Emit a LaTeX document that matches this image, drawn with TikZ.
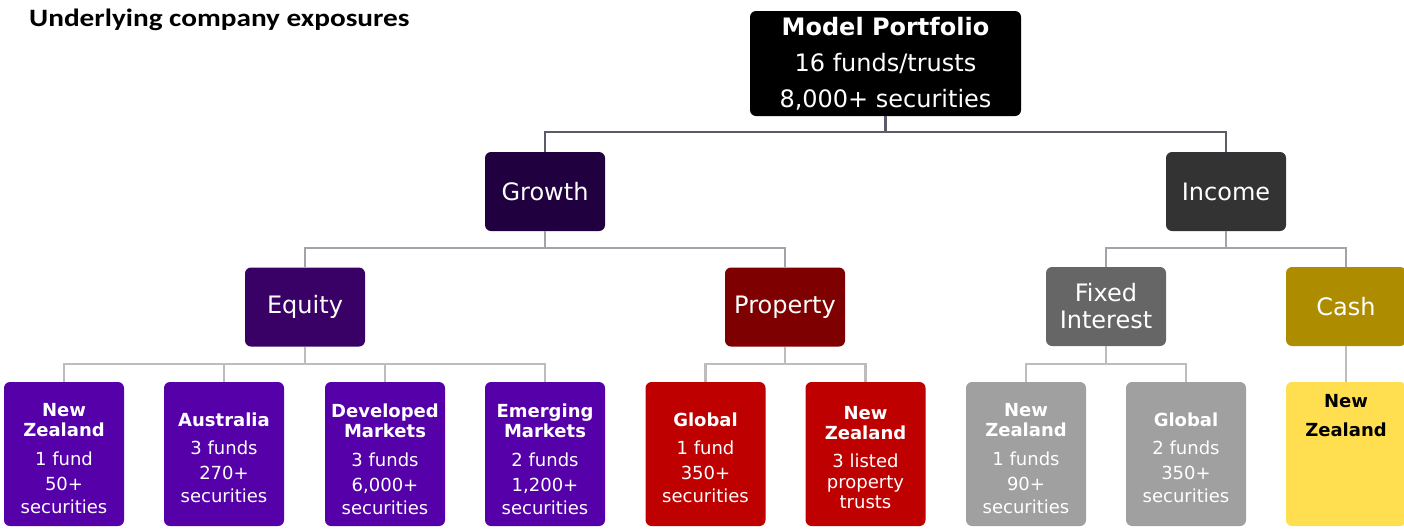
\documentclass[tikz,border=0pt]{standalone}
\usepackage{fontspec}
\usepackage{graphicx}
\setmainfont{DejaVu Sans}
\newfontfamily\titlefont{Carlito}
\usetikzlibrary{calc}
\definecolor{cMP}{HTML}{000000}
\definecolor{cGrowth}{HTML}{20003F}
\definecolor{cIncome}{HTML}{333333}
\definecolor{cEquity}{HTML}{390066}
\definecolor{cProperty}{HTML}{7F0000}
\definecolor{cFI}{HTML}{666666}
\definecolor{cCash}{HTML}{AD8C00}
\definecolor{cEqLeaf}{HTML}{5500A8}
\definecolor{cPrLeaf}{HTML}{BE0000}
\definecolor{cFILeaf}{HTML}{A0A0A0}
\definecolor{cCashLeaf}{HTML}{FFDF4F}
\definecolor{lineA}{HTML}{5E5A6A}
\definecolor{lineB}{HTML}{A3A3AB}
\definecolor{lineC}{HTML}{BDBDBD}
\tikzset{
  box/.style={rounded corners=6pt, inner sep=0pt, align=center, text=white},
  topbox/.style={box, minimum width=271pt, minimum height=105pt, fill=cMP,
    font=\fontsize{24}{36}\selectfont},
  midbox/.style={box, minimum width=120pt, minimum height=79pt,
    font=\fontsize{24}{27}\selectfont},
  leafbox/.style={box, minimum width=120pt, minimum height=144pt},
  leaftext/.style={align=center, inner sep=0pt, font=\fontsize{18}{23}\selectfont},
  connA/.style={draw=lineA, line width=2.5pt},
  connB/.style={draw=lineB, line width=2.5pt},
  connC/.style={draw=lineC, line width=2.5pt},
}
\newcommand{\hd}[1]{\textbf{#1}}
\begin{document}
\begin{tikzpicture}[x=1pt,y=-1pt]
\useasboundingbox (0,0) rectangle (1404,531);
\node[anchor=base west, inner sep=0pt, font=\titlefont\bfseries\fontsize{25}{28}\selectfont] (title) at (29,26) {\scalebox{1.17}[1]{Underlying company exposures}};

\node[topbox] (mp) at (885.5,63.5) {\hd{Model Portfolio}\\16 funds/trusts\\8,000+ securities};

\node[midbox, fill=cGrowth] (growth) at (545,191.5) {Growth};
\node[midbox, fill=cIncome] (income) at (1226,191.5) {Income};

\node[midbox, fill=cEquity] (equity) at (305,307) {Equity};
\node[midbox, fill=cProperty] (property) at (785,307) {Property};
\node[midbox, fill=cFI] (fi) at (1106,306.5) {Fixed\\Interest};
\node[midbox, fill=cCash] (cash) at (1346,306.5) {Cash};

\node[leafbox, fill=cEqLeaf, label={[leaftext, text=white, yshift=-5pt]center:{\hd{New}\\[-3pt]\hd{Zealand}\\[6pt]1 fund\\[2pt]50+\\securities}}] (eqnz) at (64,454) {};
\node[leafbox, fill=cEqLeaf, label={[leaftext, text=white, yshift=-4pt]center:{\hd{Australia}\\[5pt]3 funds\\[2pt]270+\\securities}}] (eqau) at (224,454) {};
\node[leafbox, fill=cEqLeaf, label={[leaftext, text=white, yshift=-5pt]center:{\hd{Developed}\\[-3pt]\hd{Markets}\\[6pt]3 funds\\[2pt]6,000+\\securities}}] (eqdm) at (385,454) {};
\node[leafbox, fill=cEqLeaf, label={[leaftext, text=white, yshift=-5pt]center:{\hd{Emerging}\\[-3pt]\hd{Markets}\\[6pt]2 funds\\[2pt]1,200+\\securities}}] (eqem) at (545,454) {};

\node[leafbox, fill=cPrLeaf, label={[leaftext, text=white, yshift=-4pt]center:{\hd{Global}\\[5pt]1 fund\\[2pt]350+\\securities}}] (prgl) at (705.5,454) {};
\node[leafbox, fill=cPrLeaf, label={[leaftext, text=white, yshift=-4pt]center:{\hd{New}\\[-3pt]\hd{Zealand}\\[5pt]3 listed\\[-2pt]property\\[-3pt]trusts}}] (prnz) at (865.5,454) {};

\node[leafbox, fill=cFILeaf, label={[leaftext, text=white, yshift=-5pt]center:{\hd{New}\\[-3pt]\hd{Zealand}\\[6pt]1 funds\\[2pt]90+\\securities}}] (finz) at (1026,454) {};
\node[leafbox, fill=cFILeaf, label={[leaftext, text=white, yshift=-4pt]center:{\hd{Global}\\[5pt]2 funds\\[2pt]350+\\securities}}] (figl) at (1186,454) {};

\node[leafbox, fill=cCashLeaf, label={[leaftext, text=black, anchor=north, yshift=-12pt, font=\fontsize{18}{29}\selectfont]north:{\hd{New}\\\hd{Zealand}}}] (cashnz) at (1346,454) {};

% connectors
\coordinate (b1) at (885.5,132);
\draw[connA] (mp.south) -- (b1);
\draw[connA] (growth.north) |- (b1) -| (income.north);

\coordinate (b2) at (545,248);
\draw[connB] (growth.south) -- (b2);
\draw[connB] (equity.north) |- (b2) -| (property.north);

\coordinate (b3) at (1106,248);
\draw[connB] (income.south) |- (b3);
\draw[connB] (fi.north) |- (b3) -| (cash.north);

\coordinate (b4) at (305,364);
\draw[connC] (equity.south) -- (b4);
\draw[connC] (eqnz.north) |- (b4) -| (eqem.north);
\draw[connC] (eqau.north) -- (eqau.north |- b4);
\draw[connC] (eqdm.north) -- (eqdm.north |- b4);

\coordinate (b5) at (785,364);
\draw[connC] (property.south) -- (b5);
\draw[connC] (prgl.north) |- (b5) -| (prnz.north);

\coordinate (b6) at (1106,364);
\draw[connC] (fi.south) -- (b6);
\draw[connC] (finz.north) |- (b6) -| (figl.north);

\draw[connC] (cash.south) -- (cashnz.north);
\end{tikzpicture}
\end{document}
